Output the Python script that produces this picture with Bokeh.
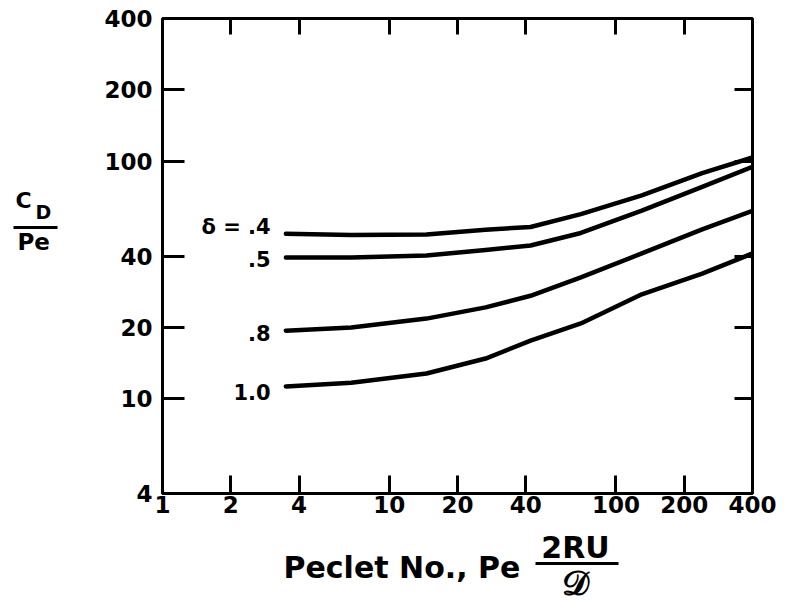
from bokeh.plotting import figure
from bokeh.models import Range1d, LogAxis, FixedTicker, PrintfTickFormatter, Label
from bokeh.layouts import row, column
from bokeh.embed import file_html
from bokeh.resources import INLINE

# ---- data (log-log chart) ----
peclet = [3.5, 6.8, 14.6, 26.6, 42, 70, 130, 240, 400]
cd_pe_04 = [49.6, 49.0, 49.3, 51.6, 53.0, 60.0, 72.0, 89.3, 104]
cd_pe_05 = [39.4, 39.4, 40.2, 42.4, 44.3, 50.0, 62.1, 78.2, 95]
cd_pe_08 = [19.4, 20.0, 21.8, 24.3, 27.2, 32.5, 41.0, 51.8, 62]
cd_pe_10 = [11.3, 11.7, 12.8, 14.8, 17.6, 20.8, 27.6, 33.7, 41]
series = [cd_pe_04, cd_pe_05, cd_pe_08, cd_pe_10]
curve_labels = ["δ = .4", ".5", ".8", "1.0"]
curve_label_y = [53.2, 39.0, 18.9, 10.65]

x_ticks = [1, 2, 4, 10, 20, 40, 100, 200, 400]
y_ticks = [4, 10, 20, 40, 100, 200, 400]
x_inner_ticks = [2, 4, 10, 20, 40, 100, 200]
y_inner_ticks = [10, 20, 40, 100, 200]

FONT = "DejaVu Sans"
W, H = 788, 606
LEFT_W = 70          # strip holding the y-axis title
MAIN_H = 530         # main chart height; the strip below holds the x-axis title
FL, FR, FT, FB = 162, 752, 18, 493  # frame edges in page pixels

# ---------------- main chart ----------------
p = figure(width=W - LEFT_W, height=MAIN_H, x_axis_type="log", y_axis_type="log",
           x_range=Range1d(1, 400), y_range=Range1d(4, 400),
           output_backend="svg", toolbar_location=None,
           min_border_left=FL - LEFT_W, min_border_right=W - FR,
           min_border_top=FT, min_border_bottom=MAIN_H - FB)
p.frame_align = False
p.xgrid.visible = False
p.ygrid.visible = False
p.background_fill_color = "white"
p.border_fill_color = "white"
p.outline_line_color = "black"
p.outline_line_width = 3


def style(ax, ticks, tick_in, show_labels):
    ax.ticker = FixedTicker(ticks=ticks)
    ax.formatter = PrintfTickFormatter(format="%d")
    ax.axis_line_color = None
    ax.major_tick_in = tick_in
    ax.major_tick_out = 0
    ax.minor_tick_in = 0
    ax.minor_tick_out = 0
    ax.major_tick_line_width = 3
    ax.major_tick_line_color = "black"
    if show_labels:
        ax.major_label_text_font = FONT
        ax.major_label_text_font_style = "bold"
        ax.major_label_text_font_size = "23px"
        ax.major_label_text_color = "black"
    else:
        ax.major_label_text_font_size = "0px"
        ax.major_label_text_color = None


style(p.xaxis[0], x_ticks, 18, True)
p.xaxis[0].major_label_standoff = 2
style(p.yaxis[0], y_ticks, 22, True)
p.yaxis[0].major_label_standoff = 10

top_ax = LogAxis()
style(top_ax, x_inner_ticks, 16, False)
p.add_layout(top_ax, "above")
right_ax = LogAxis()
style(right_ax, y_inner_ticks, 18, False)
p.add_layout(right_ax, "right")

for ys in series:
    p.line(peclet, ys, line_color="black", line_width=4.5, line_cap="round", line_join="round")

for txt, ly in zip(curve_labels, curve_label_y):
    p.add_layout(Label(x=3.0, y=ly, text=txt, text_align="right", text_baseline="middle",
                       text_font=FONT, text_font_style="bold", text_font_size="21px",
                       text_color="black"))


def strip(width, height, x0, y0):
    """A blank figure whose data coordinates equal page pixels (y downwards)."""
    f = figure(width=width, height=height, x_range=Range1d(x0, x0 + width),
               y_range=Range1d(y0 + height, y0), output_backend="svg",
               toolbar_location=None, x_axis_location=None, y_axis_location=None,
               min_border=0)
    f.frame_align = False
    f.xgrid.visible = False
    f.ygrid.visible = False
    f.outline_line_color = None
    f.background_fill_color = "white"
    f.border_fill_color = "white"
    return f


def lab(f, text, x, y, size, align="left"):
    # y is the wanted baseline; Bokeh's alphabetic baseline lands ~0.35 em lower
    f.add_layout(Label(x=x, y=y - 0.35 * size, text=text, text_align=align,
                       text_baseline="alphabetic", text_font=FONT, text_font_style="bold",
                       text_font_size=f"{size}px", text_color="black"))


# ---------------- y-axis title strip: C_D / Pe ----------------
pl = strip(LEFT_W, H, 0, 0)
lab(pl, "C", 15, 208, 22)
lab(pl, "D", 35, 218, 19)
pl.line([13, 57], [227, 227], line_color="black", line_width=3)
lab(pl, "Pe", 17, 250, 23)

# ---------------- x-axis title strip: Peclet No., Pe 2RU / D ----------------
pb = strip(W - LEFT_W, H - MAIN_H, LEFT_W, MAIN_H)
lab(pb, "Peclet No., Pe", 283, 577, 30)
lab(pb, "2RU", 575, 557, 30, align="center")
pb.line([535, 618], [563, 563], line_color="black", line_width=3)
lab(pb, "𝒟", 575, 594, 34, align="center")

layout = row(pl, column(p, pb, spacing=0), spacing=0)
open("out.html", "w").write(file_html(layout, INLINE))
